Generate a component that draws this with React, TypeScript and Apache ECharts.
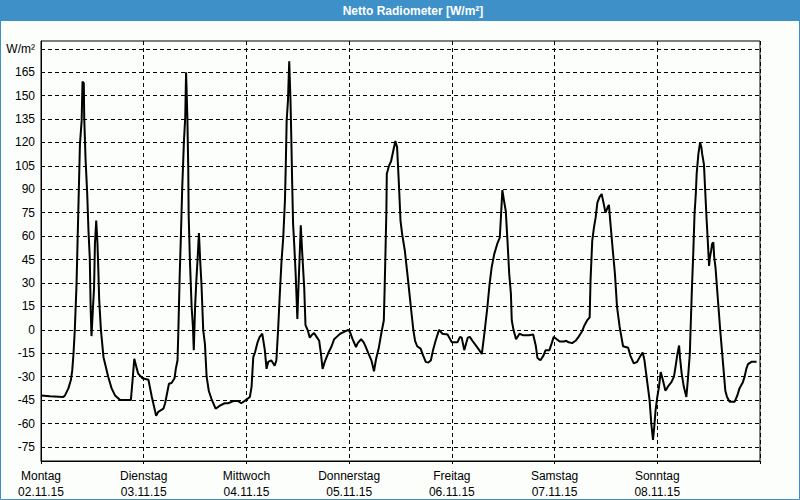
import React, { useEffect, useRef } from "react";
import * as echarts from "echarts";

// Hours since Monday 00:00, net radiation in W/m²
const montag: [number, number][] = [
  [0, -42], [2.1, -42.5], [5.2, -43], [5.6, -42], [6.4, -37.5], [7.0, -32], [7.3, -26], [7.6, -15], [7.9, 0],
  [8.3, 29], [8.7, 74], [9.1, 119], [9.5, 134], [9.7, 159], [10.0, 158], [10.1, 136], [10.4, 110], [10.8, 87],
  [11.1, 63], [11.4, 46], [11.6, 14], [11.8, -4], [12.1, 12], [12.4, 27], [12.6, 55], [12.9, 70], [13.2, 55],
  [13.4, 38], [13.6, 19], [14.0, 0], [14.6, -17.5], [15.0, -22], [15.7, -30], [16.5, -37.5], [17.3, -42],
  [18.5, -45], [21.0, -45], [21.4, -32], [21.8, -18.5], [22.4, -25], [22.7, -28], [23.7, -31],
];
const dienstag: [number, number][] = [
  [25.1, -32], [25.9, -43], [26.9, -55], [27.4, -52.5], [28.6, -50.5], [29.0, -47], [29.9, -34.5], [30.5, -34],
  [31.2, -31], [31.5, -25], [31.9, -19.5], [32.1, 0], [32.4, 34], [32.7, 61], [33.0, 91], [33.4, 121], [33.7, 136],
  [33.9, 165], [34.2, 136], [34.4, 105], [34.5, 74], [34.8, 44], [35.2, 14.5], [35.5, 2], [35.7, -13], [36.0, 14.5],
  [36.3, 31.5], [36.6, 46], [36.9, 62], [37.2, 44], [37.5, 29], [37.9, 0], [38.3, -9], [38.7, -30], [39.2, -39],
  [39.8, -44], [40.8, -50.5], [41.8, -48.5], [42.9, -47], [43.7, -47], [45.1, -45.5], [46.0, -45.5], [46.8, -47],
  [47.6, -45.5],
];
const mittwoch: [number, number][] = [
  [48.8, -43], [49.2, -36.5], [49.6, -17.5], [50.0, -14.5], [50.6, -8], [51.1, -4.5], [51.7, -2.5], [52.3, -13],
  [52.7, -25], [53.1, -20.5], [53.8, -19.5], [54.6, -23], [55.0, -19.5], [55.4, 0], [55.8, 23], [56.2, 44],
  [56.6, 59], [57.0, 83], [57.2, 106], [57.4, 134], [57.7, 146.5], [58.0, 172], [58.3, 146.5], [58.5, 121],
  [58.7, 93], [58.9, 68], [59.2, 53], [59.5, 36], [59.9, 7], [60.1, 23], [60.5, 52], [60.7, 67], [61.0, 51],
  [61.5, 27], [61.8, 3], [62.3, 0], [62.8, -5], [63.2, -3.5], [63.8, -2], [64.4, -4.5], [65.0, -7], [65.4, -15],
  [65.8, -25], [66.3, -20.5], [67.1, -15], [67.9, -10.5], [68.5, -6], [69.1, -4.5], [69.9, -2.5], [70.7, -1.5],
  [71.8, 0],
];
const donnerstag: [number, number][] = [
  [72.2, -1.5], [72.8, -6], [73.6, -11], [74.0, -8.5], [74.8, -6], [75.4, -8], [75.9, -11], [76.5, -15],
  [77.2, -19.5], [77.8, -26.5], [78.3, -18.5], [78.9, -12], [79.5, -2.5], [80.1, 6], [80.3, 27], [80.5, 51],
  [80.7, 76], [80.8, 100], [81.3, 105], [81.8, 108], [82.3, 114.5], [82.8, 121], [83.2, 117], [83.6, 95],
  [84.0, 70], [84.4, 61], [85.0, 51], [85.6, 36], [86.1, 23], [86.6, 10], [87.0, 0], [87.4, -7], [87.9, -10.5],
  [88.7, -12], [89.3, -16.5], [89.9, -20.5], [90.5, -21], [91.1, -19.5], [91.6, -13], [92.2, -7], [93.0, 0],
  [93.8, -2.5], [95.0, -3],
];
const freitag: [number, number][] = [
  [96.0, -8], [97.3, -8], [97.9, -4.5], [98.3, -5], [98.9, -13], [99.7, -5], [100.2, -4.5], [100.8, -7],
  [101.6, -10], [102.4, -13], [103.0, -15.5], [103.3, -9], [103.7, 0], [104.3, 14.5], [104.8, 29], [105.3, 40],
  [105.9, 48.5], [106.6, 55], [107.2, 59], [107.5, 74], [107.8, 89.5], [108.2, 82.5], [108.6, 76], [109.0, 57],
  [109.4, 36], [109.8, 23], [110.0, 6], [110.4, 0], [111.0, -6], [111.8, -2.5], [112.7, -3.5], [114.0, -3.5],
  [115.0, -3], [115.6, -10], [116.0, -18], [116.7, -19.5], [117.4, -16.5], [117.9, -13], [118.8, -13],
  [119.4, -8], [119.8, -4.5],
];
const samstag: [number, number][] = [
  [120.5, -6], [121.2, -7.5], [122.2, -7.5], [122.7, -7], [123.3, -8], [124.1, -8.5], [124.9, -7], [125.6, -4.5],
  [126.4, -1], [127.0, 3], [127.6, 6], [128.2, 8], [128.4, 31.5], [128.8, 57], [129.2, 65.5], [129.6, 72],
  [130.0, 81.5], [130.5, 85], [131.0, 87], [131.5, 80.5], [131.9, 75], [132.4, 78.5], [132.7, 80], [133.0, 70],
  [133.6, 51], [134.1, 36], [134.6, 14.5], [135.2, 2], [136.0, -10.5], [137.2, -11.5], [137.7, -16.5],
  [138.5, -21.5], [139.3, -20.5], [140.1, -16.5], [140.6, -14.5], [141.0, -19.5], [141.4, -28], [141.8, -36.5],
  [142.2, -45], [142.6, -60], [143.0, -70.5], [143.3, -62], [143.6, -51.5],
];
const sonntag: [number, number][] = [
  [144.0, -43], [144.4, -36.5], [144.8, -27], [145.2, -31], [145.6, -35.5], [145.9, -39], [146.7, -35.5],
  [147.3, -33.5], [147.9, -30], [148.3, -23], [148.7, -15.5], [149.1, -10], [149.3, -17.5], [149.7, -28],
  [150.2, -36.5], [150.8, -43], [151.2, -30], [151.6, -15.5], [151.8, 2], [152.1, 27], [152.4, 48.5],
  [152.7, 74], [153.0, 87], [153.2, 100], [153.6, 112.5], [154.0, 120], [154.3, 117], [154.5, 112.5],
  [154.9, 106], [155.2, 89], [155.5, 72], [155.8, 57], [156.1, 41], [156.3, 46.5], [156.6, 51], [156.8, 55],
  [157.1, 56], [157.3, 46.5], [157.6, 40], [157.9, 29], [158.3, 14.5], [158.7, 0], [159.1, -13], [159.5, -26],
  [159.9, -39], [160.3, -43], [160.9, -46], [162.1, -46], [162.7, -42], [163.2, -37.5], [164.0, -33.5],
  [164.4, -30], [164.8, -25], [165.2, -22], [166.0, -20.5], [167.2, -20.5],
];

const dayNames = ["Montag", "Dienstag", "Mittwoch", "Donnerstag", "Freitag", "Samstag", "Sonntag"];
const dayDates = ["02.11.15", "03.11.15", "04.11.15", "05.11.15", "06.11.15", "07.11.15", "08.11.15"];
const yTicks = [-75, -60, -45, -30, -15, 0, 15, 30, 45, 60, 75, 90, 105, 120, 135, 150, 165, 180];
const yUnit = "W/m²";
const title = "Netto Radiometer [W/m²]";

export default function App() {
  const ref = useRef<HTMLDivElement>(null);
  useEffect(() => {
    if (!ref.current) return;
    const chart = echarts.init(ref.current, null, { renderer: "svg" });
    const data = [...montag, ...dienstag, ...mittwoch, ...donnerstag, ...freitag, ...samstag, ...sonntag];
    const font = "Liberation Sans";
    chart.setOption({
      animation: false,
      backgroundColor: "#fbfefb",
      textStyle: { fontFamily: font },
      grid: {
        left: 41, right: 40, top: 41, bottom: 39,
        show: true, borderColor: "#000", borderWidth: 1, backgroundColor: "transparent",
      },
      xAxis: {
        type: "value", min: 0, max: 168, interval: 24,
        axisLine: { show: true, onZero: false, lineStyle: { color: "#000", width: 1 } },
        axisTick: { show: true, length: 3, lineStyle: { color: "#000" } },
        axisLabel: {
          color: "#000", fontSize: 12, fontFamily: font, lineHeight: 16, margin: 7,
          formatter: (v: number) => {
            const i = Math.round(v / 24);
            return i < dayNames.length ? dayNames[i] + "\n" + dayDates[i] : "";
          },
        },
        splitLine: { show: true, lineStyle: { color: "#000", width: 1, type: [4, 3] } },
      },
      yAxis: {
        type: "value", min: -84, max: 185,
        axisLine: { show: true, onZero: false, lineStyle: { color: "#000", width: 1 } },
        axisTick: { show: false, customValues: yTicks },
        axisLabel: {
          customValues: yTicks, color: "#000", fontSize: 12, fontFamily: font, margin: 6,
          formatter: (v: number) => (v === 180 ? yUnit : String(v)),
        },
        splitLine: { show: true, lineStyle: { color: "#000", width: 1, type: [4, 3] } },
      },
      series: [
        {
          type: "line", data, showSymbol: false, clip: true,
          lineStyle: { color: "#000", width: 2 },
        },
      ],
      graphic: [
        { type: "rect", shape: { x: 0, y: 0, width: 800, height: 21 }, style: { fill: "#3d90c8" }, z: 10 },
        {
          type: "text", x: 413, y: 11, z: 11,
          style: { text: title, fill: "#fff", font: `bold 12px "${font}"`, textAlign: "center", textVerticalAlign: "middle" },
        },
        {
          type: "rect", shape: { x: 0.5, y: 0.5, width: 799, height: 499 },
          style: { fill: "none", stroke: "#3d90c8", lineWidth: 1 }, z: 10,
        },
      ],
    });
    return () => chart.dispose();
  }, []);
  return <div ref={ref} style={{ position: "absolute", left: 0, top: 0, width: 800, height: 500 }} />;
}
